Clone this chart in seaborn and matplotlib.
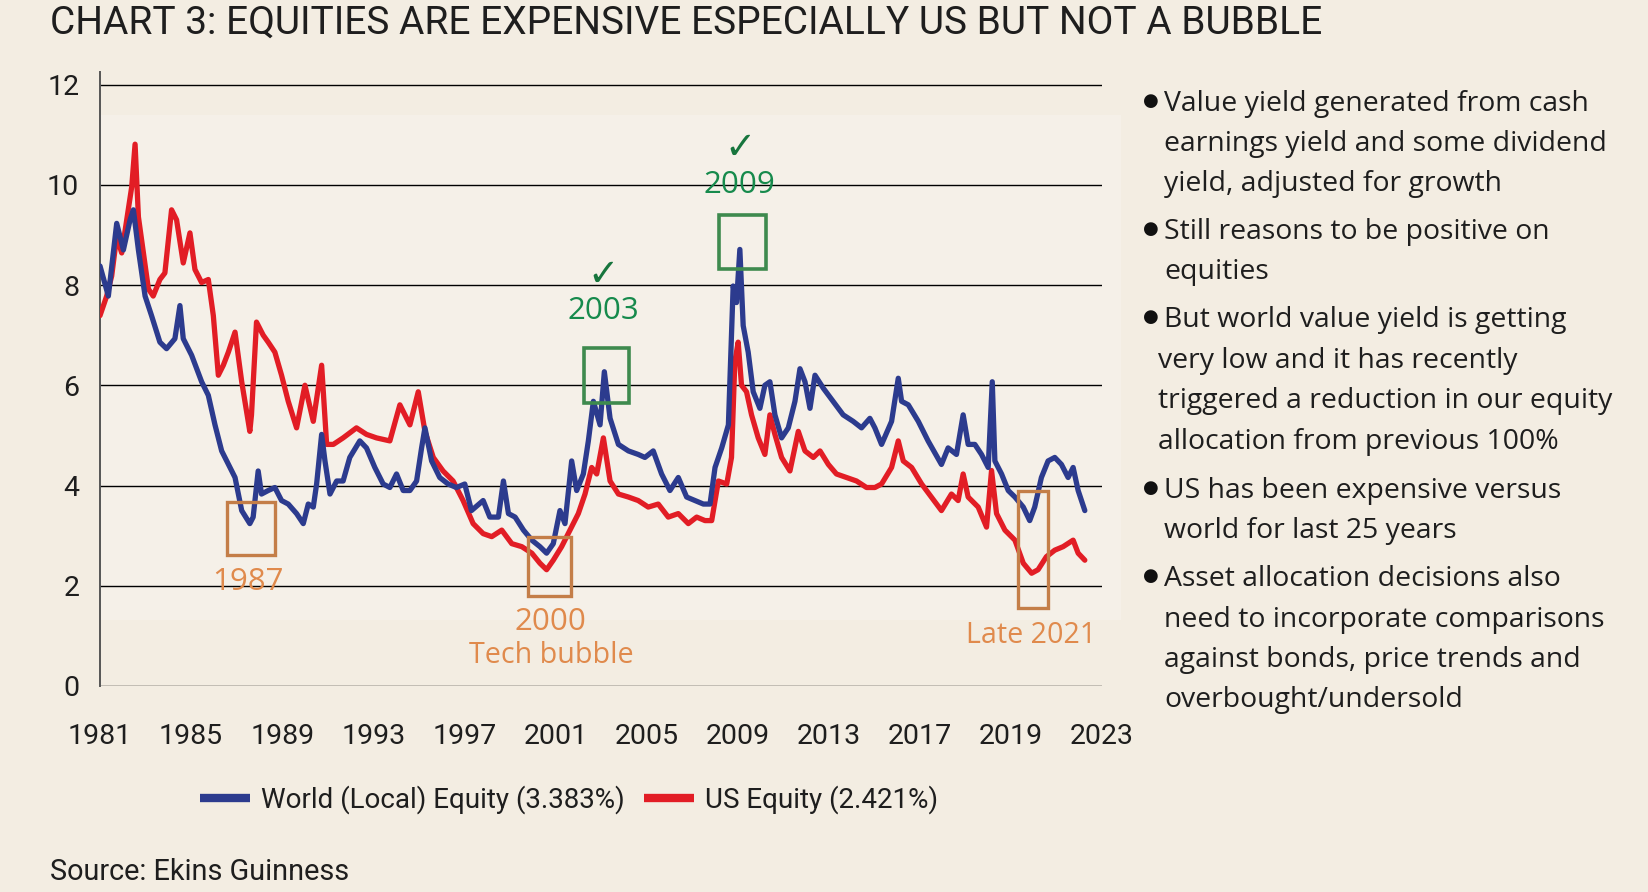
import numpy as np
import pandas as pd
import matplotlib
matplotlib.use("Agg")
import matplotlib.pyplot as plt
from matplotlib.patches import Rectangle
from matplotlib.lines import Line2D
import seaborn as sns

# value yield (%), x in the chart's own (linear) year scale
world_years = [1981.00, 1981.35, 1981.70, 1981.98, 1982.26, 1982.40, 1982.61, 1982.89, 1983.16, 1983.51,
               1983.79, 1984.14, 1984.35, 1984.49, 1984.84, 1985.26, 1985.54, 1985.82, 1986.10, 1986.45,
               1986.66, 1986.94, 1987.28, 1987.42, 1987.63, 1987.77, 1988.05, 1988.33, 1988.61, 1988.89,
               1989.24, 1989.52, 1989.73, 1989.94, 1990.08, 1990.29, 1990.43, 1990.64, 1990.92, 1991.19,
               1991.47, 1991.89, 1992.17, 1992.52, 1992.87, 1993.15, 1993.43, 1993.71, 1993.99, 1994.27,
               1994.48, 1994.62, 1994.90, 1995.24, 1995.59, 1995.94, 1996.29, 1996.57, 1997.06, 1997.34,
               1997.70, 1997.91, 1998.12, 1998.40, 1998.75, 1999.10, 1999.44, 1999.72, 2000.00, 2000.28,
               2000.49, 2000.77, 2000.98, 2001.26, 2001.47, 2001.68, 2001.96, 2002.14, 2002.38, 2002.73,
               2003.15, 2003.56, 2003.84, 2004.19, 2004.54, 2004.89, 2005.24, 2005.59, 2005.94, 2006.29,
               2006.57, 2006.78, 2007.06, 2007.34, 2007.54, 2007.68, 2007.82, 2007.96, 2008.17, 2008.38,
               2008.66, 2008.87, 2009.08, 2009.29, 2009.57, 2009.85, 2010.13, 2010.34, 2010.55, 2010.76,
               2010.97, 2011.32, 2011.73, 2012.15, 2012.57, 2012.92, 2013.27, 2013.48, 2013.76, 2014.18,
               2014.46, 2014.60, 2014.88, 2015.30, 2015.71, 2016.27, 2016.55, 2016.90, 2017.18, 2017.39,
               2017.67, 2017.95, 2018.23, 2018.40, 2018.51, 2018.79, 2019.07, 2019.35, 2019.70, 2019.97,
               2020.18, 2020.46, 2020.74, 2021.02, 2021.30, 2021.58, 2021.79, 2022.00, 2022.28]
world_yield = [8.38, 7.78, 9.23, 8.70, 9.30, 9.50, 8.70, 7.78, 7.39, 6.86,
               6.73, 6.93, 7.59, 6.93, 6.60, 6.07, 5.80, 5.21, 4.69, 4.36,
               4.16, 3.50, 3.24, 3.37, 4.29, 3.83, 3.90, 3.96, 3.70, 3.63,
               3.44, 3.24, 3.63, 3.57, 4.03, 5.02, 4.49, 3.83, 4.09, 4.09,
               4.56, 4.89, 4.75, 4.36, 4.03, 3.96, 4.23, 3.90, 3.90, 4.09,
               4.75, 5.15, 4.49, 4.16, 4.03, 3.96, 4.03, 3.50, 3.70, 3.37,
               3.37, 4.09, 3.44, 3.37, 3.11, 2.91, 2.78, 2.65, 2.84, 3.50,
               3.24, 4.49, 3.90, 4.23, 4.89, 5.68, 5.21, 6.27, 5.34, 4.82,
               4.69, 4.62, 4.56, 4.69, 4.23, 3.90, 4.16, 3.77, 3.70, 3.63,
               3.63, 4.36, 4.75, 5.21, 7.98, 7.65, 8.71, 7.19, 6.66, 5.87,
               5.54, 6.00, 6.07, 5.41, 4.95, 5.15, 5.68, 6.33, 6.07, 5.54,
               6.20, 5.94, 5.68, 5.41, 5.28, 5.15, 5.34, 5.15, 4.82, 5.28,
               6.14, 5.68, 5.61, 5.28, 4.89, 4.42, 4.75, 4.62, 5.41, 4.82,
               4.82, 4.62, 4.36, 6.07, 4.49, 4.23, 3.90, 3.77, 3.57, 3.30,
               3.57, 4.16, 4.49, 4.56, 4.42, 4.16, 4.36, 3.90, 3.50]

us_years = [1981.00, 1981.28, 1981.49, 1981.70, 1981.91, 1982.12, 1982.33, 1982.47, 1982.61, 1982.82,
            1983.03, 1983.23, 1983.51, 1983.72, 1984.00, 1984.21, 1984.49, 1984.77, 1984.98, 1985.26,
            1985.54, 1985.75, 1985.96, 1986.17, 1986.38, 1986.66, 1986.94, 1987.28, 1987.35, 1987.56,
            1987.84, 1988.05, 1988.33, 1988.61, 1988.89, 1989.24, 1989.59, 1989.94, 1990.29, 1990.50,
            1990.78, 1991.19, 1991.75, 1992.17, 1992.59, 1993.15, 1993.57, 1993.99, 1994.34, 1994.62,
            1994.97, 1995.38, 1995.80, 1996.22, 1996.64, 1997.06, 1997.42, 1997.84, 1998.26, 1998.68,
            1999.10, 1999.44, 1999.72, 2000.00, 2000.35, 2000.70, 2001.05, 2001.33, 2001.61, 2001.82,
            2002.10, 2002.38, 2002.73, 2003.15, 2003.56, 2003.98, 2004.40, 2004.82, 2005.24, 2005.66,
            2006.01, 2006.36, 2006.64, 2006.92, 2007.27, 2007.47, 2007.61, 2007.75, 2007.89, 2008.10,
            2008.31, 2008.59, 2008.87, 2009.08, 2009.29, 2009.57, 2009.92, 2010.27, 2010.55, 2010.90,
            2011.18, 2011.53, 2011.87, 2012.29, 2012.71, 2013.13, 2013.48, 2013.76, 2014.18, 2014.46,
            2014.67, 2015.02, 2015.44, 2015.85, 2016.27, 2016.69, 2016.97, 2017.18, 2017.39, 2017.81,
            2018.16, 2018.37, 2018.58, 2018.93, 2019.35, 2019.70, 2020.05, 2020.32, 2020.67, 2021.02,
            2021.37, 2021.79, 2022.00, 2022.28]
us_yield = [7.39, 7.78, 8.18, 8.97, 8.64, 9.30, 9.96, 10.81, 9.36, 8.64,
            7.92, 7.78, 8.11, 8.24, 9.50, 9.30, 8.44, 9.04, 8.31, 8.05,
            8.11, 7.39, 6.20, 6.40, 6.66, 7.06, 6.07, 5.08, 5.41, 7.26,
            7.00, 6.86, 6.66, 6.20, 5.68, 5.15, 6.00, 5.28, 6.40, 4.82,
            4.82, 4.95, 5.15, 5.02, 4.95, 4.89, 5.61, 5.21, 5.87, 5.08,
            4.56, 4.29, 4.09, 3.70, 3.24, 3.04, 2.98, 3.11, 2.84, 2.78,
            2.65, 2.45, 2.32, 2.51, 2.78, 3.11, 3.44, 3.83, 4.36, 4.23,
            4.95, 4.09, 3.83, 3.77, 3.70, 3.57, 3.63, 3.37, 3.44, 3.24,
            3.37, 3.30, 3.30, 4.09, 4.03, 4.56, 6.47, 6.86, 6.00, 5.87,
            5.41, 4.95, 4.62, 5.41, 5.02, 4.56, 4.29, 5.08, 4.69, 4.56,
            4.69, 4.42, 4.23, 4.16, 4.09, 3.96, 3.96, 4.03, 4.36, 4.89,
            4.49, 4.36, 4.03, 3.77, 3.50, 3.83, 3.70, 4.23, 3.77, 3.57,
            3.17, 4.30, 3.44, 3.11, 2.91, 2.45, 2.25, 2.32, 2.58, 2.71,
            2.78, 2.91, 2.65, 2.51]

x_tick_labels = ['1981', '1985', '1989', '1993', '1997', '2001', '2005', '2009',
                 '2013', '2017', '2019', '2023']
y_ticks = [0, 2, 4, 6, 8, 10, 12]

series_names = ['World (Local) Equity (3.383%)', 'US Equity (2.421%)']

# highlighted episodes: (x0, y0, width, height)
bad_boxes = [(1986.31, 2.61, 2.02, 1.06), (1998.96, 1.79, 1.78, 1.18), (2019.46, 1.56, 1.28, 2.34)]
good_boxes = [(2001.30, 5.64, 1.87, 1.10), (2006.96, 8.32, 1.95, 1.08)]
bad_labels = [('1987', 1987.20, 2.07, 'center'), ('2000', 1999.90, 1.27, 'center'),
              ('Tech bubble', 1999.90, 0.60, 'center'), ('Late 2021', 2022.74, 1.00, 'right')]
good_labels = [('2003', 2002.08, 7.48, 8.19), ('2009', 2007.82, 9.99, 10.71)]

bullets = [
    ["Value yield generated from cash", "earnings yield and some dividend", "yield, adjusted for growth"],
    ["Still reasons to be positive on", "equities"],
    ["But world value yield is getting", "very low and it has recently",
     "triggered a reduction in our equity", "allocation from previous 100%"],
    ["US has been expensive versus", "world for last 25 years"],
    ["Asset allocation decisions also", "need to incorporate comparisons",
     "against bonds, price trends and", "overbought/undersold"],
]

BG = '#F3EDE2'
BLUE = '#2C3B8E'
RED = '#E21D25'
ORANGE_TXT = '#E08A4C'
ORANGE_BOX = '#C47E48'
GREEN_TXT = '#168A4C'
GREEN_BOX = '#3E8A4E'
INK = '#1E1E1E'

sns.set_theme(style='white')
plt.rcParams['font.family'] = ['Roboto', 'DejaVu Sans']

W, H = 1648, 892
fx = lambda px: px / W
fy = lambda py: 1 - py / H

fig = plt.figure(figsize=(W / 100, H / 100), dpi=100)
fig.patch.set_facecolor(BG)
ax = fig.add_axes([fx(100), fy(686), 1002 / W, 614 / H])
ax.set_facecolor(BG)

# slightly lighter pasted-in panel behind the lines
ax.add_patch(Rectangle((1981, 1.32), 2023.8 - 1981, 11.4 - 1.32, facecolor='#F5F0E8',
                       edgecolor='none', zorder=0, clip_on=False))

df = pd.concat([
    pd.DataFrame({'year': us_years, 'yield': us_yield, 'series': series_names[1]}),
    pd.DataFrame({'year': world_years, 'yield': world_yield, 'series': series_names[0]}),
])
sns.lineplot(data=df, x='year', y='yield', hue='series', units='series',
             palette={series_names[0]: BLUE, series_names[1]: RED},
             hue_order=[series_names[1], series_names[0]],
             sort=False, estimator=None, linewidth=3.8, legend=False, ax=ax, zorder=3)

ax.set_xlim(1981, 2023)
ax.set_ylim(0, 12.25)
ax.set_xticks(np.linspace(1981, 2023, len(x_tick_labels)))
ax.set_xticklabels(x_tick_labels)
ax.set_yticks(y_ticks)
ax.set_yticklabels([str(v) for v in y_ticks])
ax.tick_params(axis='both', length=0, labelsize=20.5, colors=INK)
ax.tick_params(axis='x', pad=27)
ax.tick_params(axis='y', pad=15)
ax.set_xlabel('')
ax.set_ylabel('')
ax.set_axisbelow(True)
ax.yaxis.grid(True, color='black', linewidth=1.0)
ax.xaxis.grid(False)
for side in ['top', 'right', 'bottom']:
    ax.spines[side].set_visible(False)
ax.spines['left'].set_color('#555555')
ax.spines['left'].set_linewidth(1.4)

for x0, y0, w, h in bad_boxes:
    ax.add_patch(Rectangle((x0, y0), w, h, fill=False, edgecolor=ORANGE_BOX, linewidth=2.4, zorder=4))
for x0, y0, w, h in good_boxes:
    ax.add_patch(Rectangle((x0, y0), w, h, fill=False, edgecolor=GREEN_BOX, linewidth=2.6, zorder=4))

ann_font = ['Open Sans', 'DejaVu Sans']
for txt, x, y, ha in bad_labels:
    size = 22.5 if txt[0].isdigit() else 20.6
    ax.text(x, y, txt, ha=ha, va='center', color=ORANGE_TXT, fontsize=size,
            family=ann_font, zorder=5)
for txt, x, y, ycheck in good_labels:
    ax.text(x, y, txt, ha='center', va='center', color=GREEN_TXT, fontsize=22.5,
            family=ann_font, zorder=5)
    ax.text(x, ycheck, '\u2713', ha='center', va='center', color='#17753D', fontsize=27,
            family=['DejaVu Sans'], fontweight='bold', zorder=5)

# title and source
fig.text(fx(50), fy(23), 'CHART 3: EQUITIES ARE EXPENSIVE ESPECIALLY US BUT NOT A BUBBLE',
         ha='left', va='center', fontsize=28, color=INK)
fig.text(fx(50), fy(872), 'Source: Ekins Guinness', ha='left', va='center', fontsize=20.8, color=INK)

# legend
handles = [Line2D([], [], color=BLUE, linewidth=6, solid_capstyle='butt'),
           Line2D([], [], color=RED, linewidth=6, solid_capstyle='butt')]
fig.legend(handles, series_names, loc='center left', bbox_to_anchor=(fx(200), fy(800)),
           ncol=2, frameon=False, fontsize=20, handlelength=1.8, handletextpad=0.4,
           columnspacing=0.7, borderpad=0, borderaxespad=0, labelcolor=INK)

# bullet commentary
starts = [110.5, 238.9, 327.3, 497.7, 586.0]
step = 40.5
for i, (lines, y0) in enumerate(zip(bullets, starts)):
    fig.text(fx(1151), fy(y0 - 10), '\u25CF', ha='center', va='center', fontsize=13,
             family=['DejaVu Sans'], fontweight='normal', color='#111111')
    for j, line in enumerate(lines):
        x = 1164 if (i != 2 or j == 0) else 1158
        fig.text(fx(x), fy(y0 + j * step), line, ha='left', va='baseline', fontsize=20.4,
                 family=ann_font, color=INK)

fig.savefig('out.png', dpi=100, facecolor=BG)
